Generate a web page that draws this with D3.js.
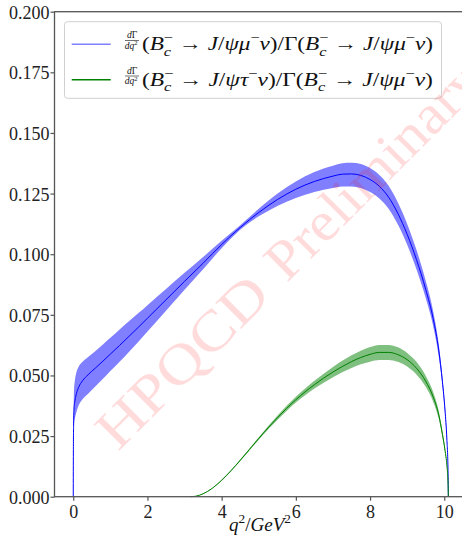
<!DOCTYPE html>
<html>
<head>
<meta charset="utf-8">
<script src="https://cdn.jsdelivr.net/npm/d3@7"></script>
<style>
  body { margin: 0; background: #fff; }
  svg { display: block; }
  svg text { font-family: "Liberation Serif", "DejaVu Serif", serif; }
</style>
</head>
<body>
<svg id="chart" width="462" height="545"></svg>
<script>
// q^2 grid and normalised rate for Bc -> J/psi mu nu
const q2Mu = [0, 0.003, 0.01, 0.02, 0.04, 0.07, 0.1, 0.15, 0.25, 0.4, 0.6, 0.8, 1.0, 1.25, 1.5, 1.75,
  2.0, 2.5, 3.0, 3.5, 4.0, 4.5, 5.0, 5.5, 6.0, 6.5, 7.0, 7.25, 7.5, 7.75, 8.0, 8.25, 8.5, 8.75,
  9.0, 9.25, 9.5, 9.7, 9.85, 9.95, 10.02, 10.07, 10.1, 10.11];
const rateMu = [0, 0.018, 0.030, 0.036, 0.039, 0.0415, 0.0433, 0.0453, 0.0478, 0.0503, 0.0531, 0.0559, 0.0588, 0.0624, 0.0661, 0.0698,
  0.0736, 0.0812, 0.0888, 0.0963, 0.1040, 0.1110, 0.1172, 0.1225, 0.1268, 0.1300, 0.1322, 0.1330, 0.1331, 0.1325, 0.1308, 0.1280, 0.1235, 0.1168,
  0.1082, 0.0978, 0.0855, 0.0735, 0.0605, 0.0475, 0.0357, 0.0238, 0.0119, 0];
// upper / lower error of the blue band
const errMuUp = [0, 0.004, 0.006, 0.008, 0.0085, 0.0088, 0.0087, 0.0084, 0.0078, 0.0073, 0.0070, 0.0069, 0.0067, 0.0065, 0.0062, 0.0058,
  0.0054, 0.0045, 0.0035, 0.0025, 0.0015, 0.0009, 0.0015, 0.0024, 0.0032, 0.0039, 0.0043, 0.0045, 0.0046, 0.0047, 0.0047, 0.0047, 0.0047, 0.0045,
  0.0043, 0.0040, 0.0036, 0.0031, 0.0025, 0.0019, 0.0014, 0.0009, 0.0005, 0];
const errMuDown = [0, 0.004, 0.006, 0.006, 0.007, 0.0075, 0.0076, 0.0075, 0.0076, 0.0078, 0.0076, 0.0073, 0.0070, 0.0067, 0.0064, 0.0060,
  0.0055, 0.0045, 0.0035, 0.0025, 0.0015, 0.0009, 0.0016, 0.0026, 0.0036, 0.0044, 0.0049, 0.0051, 0.0052, 0.0052, 0.0052, 0.0050, 0.0048, 0.0046,
  0.0043, 0.0040, 0.0036, 0.0031, 0.0025, 0.0019, 0.0014, 0.0009, 0.0005, 0];

// same for Bc -> J/psi tau nu, normalised to the mu total width
const q2Tau = [3.16, 3.3, 3.5, 3.75, 4.0, 4.25, 4.5, 4.75, 5.0, 5.25, 5.5, 6.0, 6.5, 7.0, 7.5, 7.75, 8.0, 8.25,
  8.5, 8.75, 9.0, 9.25, 9.5, 9.7, 9.85, 9.95, 10.02, 10.07, 10.1, 10.11];
const rateTau = [0, 0.0002, 0.0012, 0.0035, 0.0068, 0.0107, 0.0150, 0.0195, 0.0240, 0.0284, 0.0325, 0.0400, 0.0462, 0.0514, 0.0557, 0.0574, 0.0587, 0.0595,
  0.0595, 0.0586, 0.0565, 0.0530, 0.0476, 0.0412, 0.0338, 0.0258, 0.0192, 0.0130, 0.0064, 0];
const errTau = [0, 0, 0.0001, 0.0001, 0.0002, 0.0002, 0.0003, 0.0004, 0.0005, 0.0007, 0.0009, 0.0012, 0.0016, 0.0021, 0.0026, 0.0028, 0.0030, 0.0031,
  0.0031, 0.0030, 0.0028, 0.0026, 0.0023, 0.0020, 0.0016, 0.0012, 0.0009, 0.0006, 0.0003, 0];

const xTicks = [0, 2, 4, 6, 8, 10];
const yTicks = [0, 0.025, 0.05, 0.075, 0.1, 0.125, 0.15, 0.175, 0.2];

const svg = d3.select('#chart');
const ink = '#555';

// plot box: x limits follow matplotlib's 5% margins, right spine falls off the page
const x = d3.scaleLinear().domain([-0.5055, 10.6155]).range([54.5, 467.1]);
const y = d3.scaleLinear().domain([0, 0.2]).range([496.7, 11.7]);

function band(xs, mid, up, down) {
  return d3.area()
    .curve(d3.curveMonotoneX)
    .x(function (d, i) { return x(xs[i]); })
    .y0(function (d, i) { return y(mid[i] - down[i]); })
    .y1(function (d, i) { return y(mid[i] + up[i]); })(xs);
}
function curve(xs, ys) {
  return d3.line()
    .curve(d3.curveMonotoneX)
    .x(function (d, i) { return x(xs[i]); })
    .y(function (d, i) { return y(ys[i]); })(xs);
}

svg.append('path').attr('d', band(q2Mu, rateMu, errMuUp, errMuDown))
  .attr('fill', '#0000ff').attr('fill-opacity', 0.5);
svg.append('path').attr('d', band(q2Tau, rateTau, errTau, errTau))
  .attr('fill', '#008000').attr('fill-opacity', 0.5);
svg.append('path').attr('d', curve(q2Mu, rateMu))
  .attr('fill', 'none').attr('stroke', '#0000ff').attr('stroke-width', 1);
svg.append('path').attr('d', curve(q2Tau, rateTau))
  .attr('fill', 'none').attr('stroke', '#008000').attr('stroke-width', 1);

// axes
const xAxis = svg.append('g').attr('transform', 'translate(0,' + y(0) + ')')
  .call(d3.axisBottom(x).tickValues(xTicks).tickFormat(d3.format('d')).tickSize(4).tickPadding(3));
const yAxis = svg.append('g').attr('transform', 'translate(' + x.range()[0] + ',0)')
  .call(d3.axisLeft(y).tickValues(yTicks).tickFormat(d3.format('.3f')).tickSize(4).tickPadding(1));
[xAxis, yAxis].forEach(function (g) {
  g.attr('font-family', null).attr('font-size', null);
  g.select('.domain').remove();
  g.selectAll('.tick line').attr('stroke', ink).attr('stroke-width', 1.2);
  g.selectAll('.tick text')
    .style('font-family', '"Liberation Serif", serif')
    .style('font-size', '18px').attr('fill', '#222');
});
xAxis.selectAll('.tick text').attr('dy', '0.78em');
yAxis.selectAll('.tick text').attr('dy', '0.36em');

// spines
const [x0, x1] = x.range();
const [yb, yt] = y.range();
svg.append('rect').attr('x', x0).attr('y', yt).attr('width', x1 - x0).attr('height', yb - yt)
  .attr('fill', 'none').attr('stroke', ink).attr('stroke-width', 1.3);

// helper: write a run of math tokens into a text element
function addMath(text, tokens, size) {
  let shift = 0;
  tokens.forEach(function (tk) {
    let target = 0, fs = size;
    if (tk.k === 'sup') { target = -0.42 * size; fs = 0.7 * size; }
    if (tk.k === 'sub') { target = 0.3 * size; fs = 0.7 * size; }
    const ts = text.append('tspan').text(tk.t)
      .attr('font-size', fs)
      .attr('font-style', tk.it ? 'italic' : 'normal')
      .attr('dy', target - shift);
    if (tk.dx) ts.attr('dx', tk.dx * size);
    shift = target;
  });
}

function decay(lepton) {
  return [
    { t: '(' }, { t: 'B', it: true }, { t: '\u2212', k: 'sup' }, { t: 'c', k: 'sub', it: true, dx: -0.395 },
    { t: ' \u2192 ', dx: 0.08 }, { t: 'J', it: true }, { t: '/' }, { t: '\u03c8' + lepton, it: true },
    { t: '\u2212', k: 'sup' }, { t: '\u03bd', it: true }, { t: ')/\u0393(' },
    { t: 'B', it: true }, { t: '\u2212', k: 'sup' }, { t: 'c', k: 'sub', it: true, dx: -0.395 },
    { t: ' \u2192 ', dx: 0.08 }, { t: 'J', it: true }, { t: '/' }, { t: '\u03c8\u03bc', it: true },
    { t: '\u2212', k: 'sup' }, { t: '\u03bd', it: true }, { t: ')' }
  ];
}

// legend
const legendItems = [
  { color: '#0000ff', opacity: 0.5, lepton: '\u03bc', base: 50 },
  { color: '#008000', opacity: 1, lepton: '\u03c4', base: 85.5 }
];
svg.append('rect').attr('x', 64.5).attr('y', 21.7).attr('width', 377).attr('height', 76.6)
  .attr('rx', 3).attr('fill', '#fff').attr('fill-opacity', 0.8)
  .attr('stroke', '#d0d0d0').attr('stroke-width', 1);

legendItems.forEach(function (it) {
  svg.append('line').attr('x1', 71.7).attr('x2', 110.7)
    .attr('y1', it.base - 5.7).attr('y2', it.base - 5.7)
    .attr('stroke', it.color).attr('stroke-opacity', it.opacity).attr('stroke-width', 1.5);

  // d Gamma / d q^2 fraction
  const fx = 132;
  svg.append('text').attr('x', fx).attr('y', it.base - 12).attr('text-anchor', 'middle')
    .attr('font-size', 9.5).attr('fill', '#111')
    .html('<tspan font-style="italic">d</tspan>\u0393');
  svg.append('line').attr('x1', fx - 7).attr('x2', fx + 7)
    .attr('y1', it.base - 9.5).attr('y2', it.base - 9.5).attr('stroke', '#111').attr('stroke-width', 0.6);
  svg.append('text').attr('x', fx - 1).attr('y', it.base - 1.5).attr('text-anchor', 'middle')
    .attr('font-size', 9.5).attr('fill', '#111')
    .html('<tspan font-style="italic">dq</tspan><tspan font-size="6.5" dy="-3.5">2</tspan>');

  const g = svg.append('g');
  const t = g.append('text').attr('x', 0).attr('y', 0).attr('fill', '#111');
  addMath(t, decay(it.lepton), 19);
  const w = t.node().getBBox().width;
  g.attr('transform', 'translate(142,' + it.base + ') scale(' + (291 / w) + ',1)');
});

// x axis label
const xl = svg.append('text').attr('x', 260).attr('y', 531).attr('text-anchor', 'middle').attr('fill', '#111');
addMath(xl, [
  { t: 'q', it: true }, { t: '2', k: 'sup' }, { t: '/' }, { t: 'GeV', it: true }, { t: '2', k: 'sup' }
], 19);

// watermark
const wm = svg.append('g').attr('fill', '#ff0000').attr('fill-opacity', 0.14)
  .attr('font-size', 56);
wm.append('text').attr('transform', 'translate(118,452) rotate(-45)')
  .attr('textLength', 219).attr('lengthAdjust', 'spacingAndGlyphs').text('HPQCD');
wm.append('text').attr('transform', 'translate(286.7,283.3) rotate(-45)')
  .attr('textLength', 282).attr('lengthAdjust', 'spacingAndGlyphs').text('Preliminary');
</script>
</body>
</html>
